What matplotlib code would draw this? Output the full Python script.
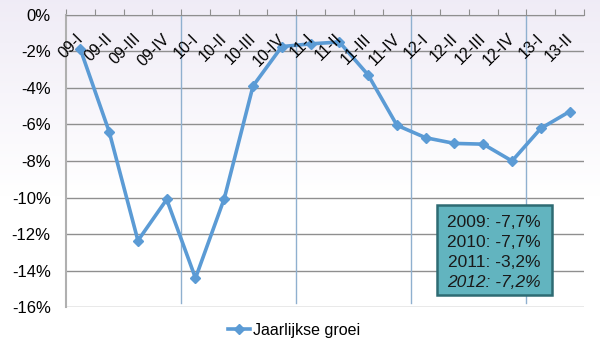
import numpy as np
import matplotlib
matplotlib.use("Agg")
import matplotlib.pyplot as plt
from matplotlib.patches import Rectangle

plt.rcParams['font.family'] = ['Liberation Sans', 'DejaVu Sans']

quarters = ["09-I", "09-II", "09-III", "09-IV", "10-I", "10-II", "10-III", "10-IV",
            "11-I", "11-II", "11-III", "11-IV", "12-I", "12-II", "12-III", "12-IV",
            "13-I", "13-II"]
growth = [-1.9, -6.4, -12.35, -10.1, -14.4, -10.05, -3.9, -1.75,
          -1.6, -1.5, -3.3, -6.05, -6.73, -7.04, -7.08, -8.0,
          -6.22, -5.3]
year_lines = ["2009: -7,7%", "2010: -7,7%", "2011: -3,2%", "2012: -7,2%"]
year_starts = [3.5, 7.5, 11.5, 15.5]

fig = plt.figure(figsize=(6, 3.55), dpi=100)

# lavender gradient background
bg = fig.add_axes([0, 0, 1, 1], zorder=-10)
grad = np.linspace(0, 1, 256).reshape(-1, 1)
top = np.array([0.94, 0.925, 0.965])
white = np.array([1.0, 1.0, 1.0])
mix = np.clip(grad / 0.55, 0, 1)
img = top * (1 - mix) + white * mix
bg.imshow(img.reshape(256, 1, 3), aspect='auto', extent=[0, 1, 0, 1])
bg.axis('off')

ax = fig.add_axes([0.11, 0.134, 0.8633, 0.825])
ax.patch.set_alpha(0)
x = np.arange(len(quarters))

ax.set_xlim(-0.5, len(quarters) - 0.5)
ax.set_ylim(-16, 0)
ax.set_yticks(np.arange(-16, 1, 2))
ax.set_yticklabels([f"{v}%" for v in range(-16, 1, 2)], fontsize=12)
ax.tick_params(axis='y', length=0, pad=11)
ax.yaxis.grid(True, color='#8f8f8f', lw=1)
ax.set_axisbelow(True)

ax.set_xticks(np.arange(-0.5, len(quarters), 1))
ax.set_xticklabels([])
ax.xaxis.set_ticks_position('top')
ax.tick_params(axis='x', direction='out', length=4, color='#8f8f8f')

for s in ['right', 'bottom']:
    ax.spines[s].set_visible(False)
ax.spines['left'].set_color('#b0b0b0')
ax.spines['left'].set_linewidth(1.5)
ax.spines['top'].set_color('#8f8f8f')

for xs in year_starts:
    ax.axvline(xs, ymin=0.015, ymax=1, color='#8fb0cf', lw=1, zorder=1)

line, = ax.plot(x, growth, color='#5b9bd5', lw=2.6, marker='D', markersize=5.5,
                zorder=3, label='Jaarlijkse groei')

for i, q in enumerate(quarters):
    ax.text(i + 0.2, -0.9, q, rotation=45, ha='right', va='top', fontsize=11.5)

# annual summary box
ax.add_patch(Rectangle((12.38, -15.33), 4.0, 4.92, facecolor='#62b4bf',
                       edgecolor='#2e6b73', lw=1.8, zorder=4))
ys = [-11.34, -12.43, -13.52, -14.62]
for k, (t, yy) in enumerate(zip(year_lines, ys)):
    ax.text(14.38, yy, t, ha='center', va='center', fontsize=12.5, color='#1a1a1a',
            style='italic' if k == 3 else 'normal', zorder=5)

fig.legend(handles=[line], loc='center', bbox_to_anchor=(0.49, 0.07), frameon=False,
           fontsize=11.5, handlelength=1.4, handletextpad=0.2)

fig.savefig("out.png", dpi=100)
